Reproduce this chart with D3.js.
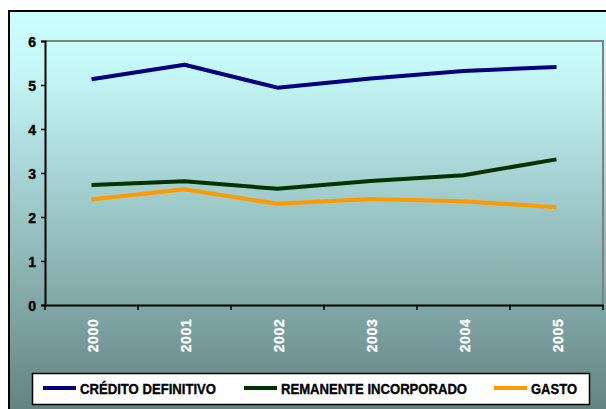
<!DOCTYPE html>
<html><head><meta charset="utf-8">
<script src="https://cdn.jsdelivr.net/npm/d3@7"></script>
<style>body{margin:0;background:#fff}svg{display:block}</style>
</head><body>
<svg id="c" width="606" height="409"></svg>
<script>
const years = ["2000","2001","2002","2003","2004","2005"];
const credito = [5.13, 5.46, 4.94, 5.15, 5.32, 5.41];
const remanente = [2.73, 2.81, 2.64, 2.82, 2.95, 3.31];
const gasto = [2.40, 2.63, 2.30, 2.41, 2.36, 2.22];
const yTicks = [0,1,2,3,4,5,6];
const seriesNames = ["CRÉDITO DEFINITIVO","REMANENTE INCORPORADO","GASTO"];
const seriesColors = ["#000080","#003300","#FF9900"];
const seriesData = [credito, remanente, gasto];

const FONT = "'Liberation Sans', Arial, sans-serif";
const svg = d3.select("#c");
const defs = svg.append("defs");
const g = defs.append("linearGradient").attr("id","bg").attr("x1",0).attr("y1",0).attr("x2",0).attr("y2",1);
g.append("stop").attr("offset","0%").attr("stop-color","#CCFFFF");
g.append("stop").attr("offset","15%").attr("stop-color","#C4F6F6");
g.append("stop").attr("offset","100%").attr("stop-color","#5C7C7B");

svg.append("rect").attr("x",9).attr("y",11).attr("width",620).attr("height",420)
  .attr("fill","url(#bg)").attr("stroke","#000").attr("stroke-width",2);

const L=45, R=603, T=41, B=305;
const x = d3.scaleBand().domain(years).range([L,R]);
const y = d3.scaleLinear().domain([0,6]).range([B,T]);

svg.append("path").attr("d",`M${L},${T}H${R}V${B}`).attr("fill","none").attr("stroke","#808080").attr("stroke-width",2);

const yAxis = svg.append("g").attr("transform",`translate(${L},0)`)
  .call(d3.axisLeft(y).tickValues(yTicks).tickSize(4).tickFormat(d3.format("d")));
yAxis.select(".domain").attr("stroke","#000").attr("stroke-width",2);
yAxis.selectAll(".tick line").attr("stroke","#000").attr("stroke-width",1.5);
yAxis.selectAll("text").attr("x",-9).attr("dy","0.36em")
  .style("font-family",FONT).style("font-weight","bold").style("font-size","14px")
  .style("fill","#000").style("stroke","#000").style("stroke-width","0.4px");

const xAxis = svg.append("g").attr("transform",`translate(0,${B})`)
  .call(d3.axisBottom(x).tickSize(0).tickFormat(""));
xAxis.select(".domain").attr("stroke","#000").attr("stroke-width",2);
svg.append("g").selectAll("line").data(years.concat(["end"])).join("line")
  .attr("x1",(d,i)=> i<years.length ? x(d) : x.range()[1])
  .attr("x2",(d,i)=> i<years.length ? x(d) : x.range()[1])
  .attr("y1",B).attr("y2",B+5).attr("stroke","#000").attr("stroke-width",1.5);
svg.append("g").selectAll("text").data(years).join("text")
  .attr("transform",d=>`translate(${x(d)+x.bandwidth()/2+6},${335.5}) rotate(-90)`)
  .attr("text-anchor","middle").attr("letter-spacing",0.6)
  .style("font-family",FONT).style("font-weight","bold").style("font-size","14px")
  .style("fill","#fff").style("stroke","#fff").style("stroke-width","0.3px")
  .text(d=>d);

const line = d3.line().x((d,i)=>x(years[i])+x.bandwidth()/2).y(d=>y(d));
seriesData.forEach((s,k)=>{
  svg.append("path").datum(s).attr("d",line).attr("fill","none")
    .attr("stroke",seriesColors[k]).attr("stroke-width",4).attr("stroke-linejoin","round");
});

const lg = svg.append("g");
lg.append("rect").attr("x",32.5).attr("y",373.5).attr("width",557).attr("height",31)
  .attr("fill","#fff").attr("stroke","#000").attr("stroke-width",1.5);
const legX = [43, 244, 494];
const legW = [136, 186, 46];
seriesNames.forEach((n,k)=>{
  lg.append("line").attr("x1",legX[k]).attr("x2",legX[k]+33).attr("y1",388).attr("y2",388)
    .attr("stroke",seriesColors[k]).attr("stroke-width",4);
  lg.append("text").attr("x",legX[k]+37).attr("y",393.5)
    .attr("textLength",legW[k]).attr("lengthAdjust","spacingAndGlyphs")
    .style("font-family",FONT).style("font-weight","bold").style("font-size","14.5px")
    .style("fill","#000").style("stroke","#000").style("stroke-width","0.35px").text(n);
});
</script>
</body></html>
